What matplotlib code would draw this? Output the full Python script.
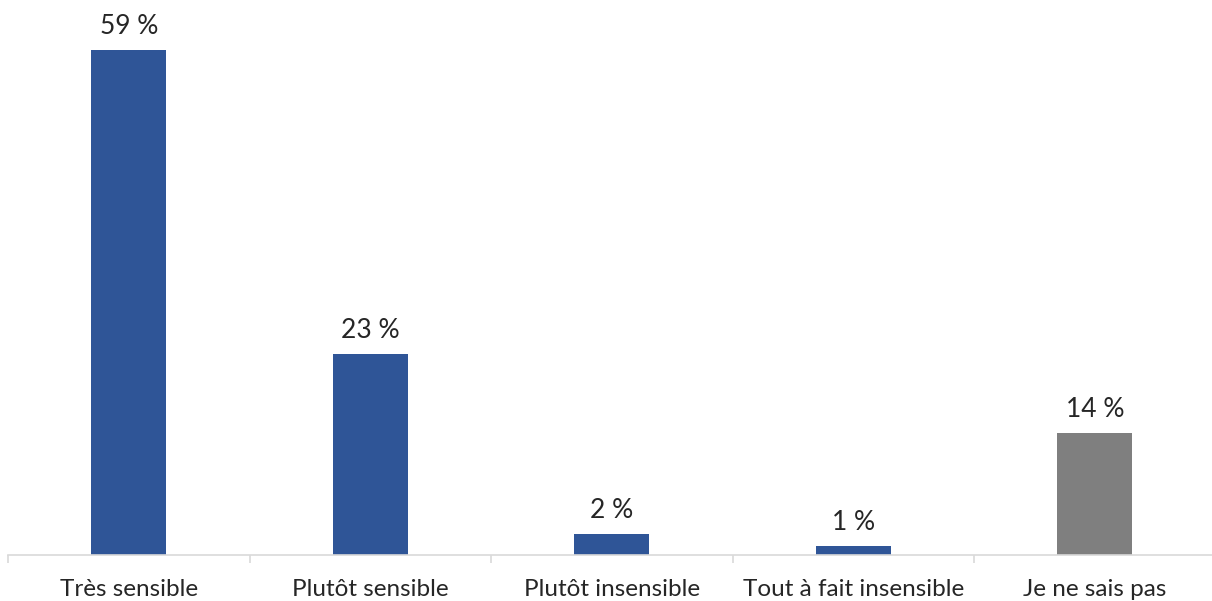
import matplotlib
matplotlib.use("Agg")
import matplotlib.pyplot as plt

categories = ["Très sensible", "Plutôt sensible", "Plutôt insensible", "Tout à fait insensible", "Je ne sais pas"]
values = [58.8, 23.4, 2.4, 1.0, 14.2]
labels = ["59 %", "23 %", "2 %", "1 %", "14 %"]
colors = ["#2F5597", "#2F5597", "#2F5597", "#2F5597", "#7F7F7F"]

W, H = 1212, 601
fig = plt.figure(figsize=(W / 100, H / 100), dpi=100)
plt.rcParams['font.family'] = ['Lato', 'DejaVu Sans']

left, right = 8, 1215.5
base = 555
ax = fig.add_axes([left / W, (H - base) / H, (right - left) / W, base / H])
x = list(range(len(categories)))
ax.bar(x, values, width=0.31, color=colors, zorder=2)
ax.set_xlim(-0.5, len(categories) - 0.5)
ax.set_ylim(0, 555 / (505 / 58.8))

for s in ["top", "right", "left"]:
    ax.spines[s].set_visible(False)
ax.spines["bottom"].set_color("#D9D9D9")
ax.spines["bottom"].set_linewidth(1.2)
ax.set_yticks([])
ax.set_xticks([i - 0.5 for i in range(len(categories) + 1)])
ax.set_xticklabels([])
ax.tick_params(axis="x", length=6, color="#D9D9D9", width=1.2, direction="out")

for xi, v, lab in zip(x, values, labels):
    ax.annotate(lab, (xi, v), xytext=(0, 8), textcoords="offset points",
                ha="center", va="bottom", fontsize=19, color="#262626")
for xi, c in zip(x, categories):
    ax.annotate(c, (xi, 0), xytext=(0, -17), textcoords="offset points",
                ha="center", va="top", fontsize=17.5, color="#262626",
                annotation_clip=False)

fig.savefig("out.png", dpi=100)
